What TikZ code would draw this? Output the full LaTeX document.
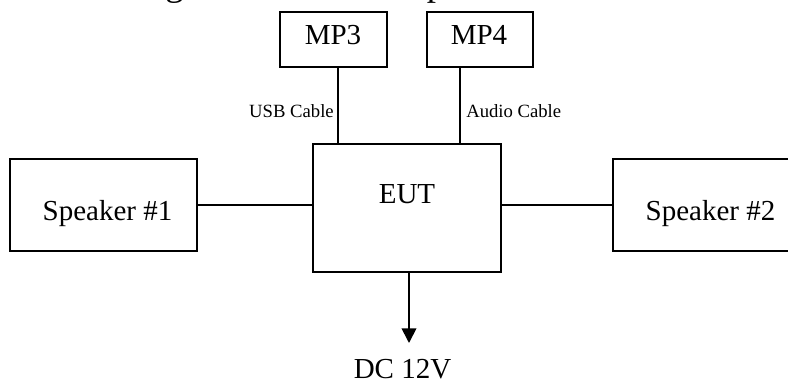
\documentclass[tikz,border=0pt]{standalone}
\usepackage{fontspec}
\setmainfont{Liberation Serif}
\usetikzlibrary{arrows.meta}

\begin{document}
\begin{tikzpicture}[
  x=0.75pt,y=-0.75pt,
  box/.style={draw=black,line width=1.3pt,inner sep=0pt},
  wire/.style={draw=black,line width=1.3pt},
  feed/.style={-{Triangle[length=11pt,width=11pt]},line width=1.3pt},
  txt/.style={font=\fontsize{21.75}{26}\selectfont,inner sep=0pt,anchor=base},
  cable/.style={font=\fontsize{14}{17}\selectfont,inner sep=0pt},
  title/.style={font=\fontsize{27.75}{33}\selectfont,inner sep=0pt,anchor=base west},
]
\useasboundingbox (0,0) rectangle (788,381);
\clip (0,0) rectangle (788,381);
\node[title] (head) at (14,-4) {Block Diagram of Test Setup};
% boxes
\node[box,minimum width=140.25pt,minimum height=69pt] (spk1) at (103.5,205) {};
\node[box,minimum width=141pt,minimum height=96pt] (eut) at (407,208) {};
\node[box,minimum width=140.25pt,minimum height=69pt] (spk2) at (706.5,205) {};
\node[box,minimum width=80.25pt,minimum height=41.25pt] (mp3) at (333.5,39.5) {};
\node[box,minimum width=79.5pt,minimum height=41.25pt] (mp4) at (480,39.5) {};
% texts
\node[txt] (spk1text) at (107.5,220) {Speaker \#1};
\node[txt] (euttext) at (407,203) {EUT};
\node[txt] (spk2text) at (710.5,220) {Speaker \#2};
\node[txt] (mp3text) at (333,45) {MP3};
\node[txt] (mp4text) at (479,45) {MP4};
\node[txt] (dc) at (402.5,378) {DC 12V};
\node[cable,anchor=base east] (usb) at (334,118) {USB Cable};
\node[cable,anchor=base west] (audio) at (466,118) {Audio Cable};
% connectors
\coordinate (tip) at (409,343);
\draw[wire] (spk1.east) -- (spk1.east -| eut.west);
\draw[wire] (eut.east |- spk2.west) -- (spk2.west);
\draw[wire] ([xshift=3.4pt]mp3.south) -- ([xshift=3.4pt]mp3.south |- eut.north);
\draw[wire] ([xshift=-15pt]mp4.south) -- ([xshift=-15pt]mp4.south |- eut.north);
\draw[feed] ([xshift=1.5pt]eut.south) -- (tip);
\end{tikzpicture}
\end{document}
